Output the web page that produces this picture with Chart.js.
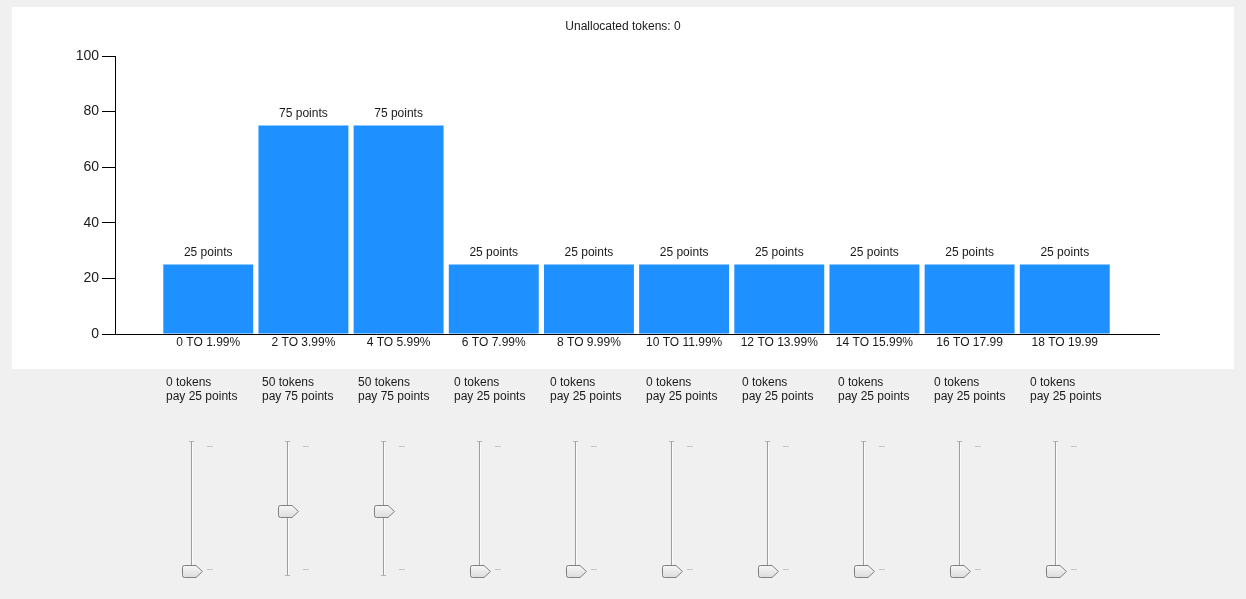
<!DOCTYPE html>
<html>
<head>
<meta charset="utf-8">
<script src="https://cdn.jsdelivr.net/npm/chart.js@4"></script>
<style>
  body { margin: 0; background: #f0f0f0; font-family: 'Liberation Sans', Arial, sans-serif; }
  #panel { position: absolute; left: 12px; top: 7px; width: 1222px; height: 362px; background: #fff; }
  #controls { position: absolute; left: 0; top: 0; width: 1246px; height: 599px; pointer-events: none; }
  .lbl { position: absolute; top: 376px; font-size: 12px; line-height: 13.5px; color: #1a1a1a; white-space: nowrap; }
  .track { position: absolute; top: 441px; height: 134px; width: 1px; background: #9c9c9c; border-right: 1px solid #fbfbfb; }
  .cap { position: absolute; width: 5px; height: 1px; background: #b4b4b4; }
  .tick { position: absolute; width: 6px; height: 1px; background: #c4c4c4; }
  .thumb { position: absolute; width: 22px; height: 13px; }
</style>
</head>
<body>
<div id="panel"><canvas id="myChart" width="1222" height="362"></canvas></div>
<div id="controls"></div>
<script>
// Dados do gráfico
let rangeLabels = ['0 TO 1.99%', '2 TO 3.99%', '4 TO 5.99%', '6 TO 7.99%', '8 TO 9.99%',
                   '10 TO 11.99%', '12 TO 13.99%', '14 TO 15.99%', '16 TO 17.99', '18 TO 19.99'];
let points = [25, 75, 75, 25, 25, 25, 25, 25, 25, 25];
let tokens = [0, 50, 50, 0, 0, 0, 0, 0, 0, 0];
let yTicks = [0, 20, 40, 60, 80, 100];
let unallocated = 0;

const txt = '#1a1a1a';
const fontFam = "'Liberation Sans', Arial, sans-serif";
Chart.defaults.font.family = fontFam;
Chart.defaults.font.size = 12;
Chart.defaults.color = txt;

// Escreve "xx points" em cima de cada barra e o título no meio do painel
const barLabels = {
    id: 'barLabels',
    afterDatasetsDraw(chart) {
        const ctx = chart.ctx;
        ctx.save();
        ctx.font = '12px ' + fontFam;
        ctx.fillStyle = txt;
        ctx.textAlign = 'center';
        ctx.textBaseline = 'alphabetic';
        chart.getDatasetMeta(0).data.forEach((bar, i) => {
            ctx.fillText(points[i] + ' points', bar.x, bar.y - 9);
        });
        ctx.textBaseline = 'middle';
        ctx.fillText('Unallocated tokens: ' + unallocated, chart.width / 2, 19.5);
        ctx.restore();
    }
};

var myChart = new Chart(document.getElementById('myChart'), {
    type: 'bar',
    data: {
        datasets: [{
            data: points.map((p, i) => ({ x: i, y: p })),
            backgroundColor: '#1E90FF',
            borderWidth: 0,
            barPercentage: 0.945,
            categoryPercentage: 1
        }]
    },
    options: {
        responsive: false,
        animation: false,
        devicePixelRatio: 1,
        layout: { padding: { left: 0, right: 75, top: 49, bottom: 18.6 } },
        plugins: {
            legend: { display: false },
            tooltip: { enabled: false },
            title: { display: false }
        },
        scales: {
            x: {
                type: 'linear',
                offset: false,
                min: -0.98,
                max: 9.99,
                grid: { display: false, drawTicks: false, offset: false },
                border: { display: true, color: '#000', width: 1 },
                ticks: {
                    stepSize: 1,
                    includeBounds: false,
                    autoSkip: false,
                    maxRotation: 0,
                    padding: 1,
                    color: txt,
                    callback: v => rangeLabels[Math.round(v)] ?? ''
                }
            },
            y: {
                min: 0,
                max: 100,
                afterFit(scale) { scale.width = 103; },
                afterBuildTicks(scale) { scale.ticks = yTicks.map(v => ({ value: v })); },
                grid: { drawOnChartArea: false, drawTicks: true, tickLength: 13, color: '#000' },
                border: { display: true, color: '#000', width: 1 },
                ticks: { padding: 3, color: txt, font: { size: 14 } }
            }
        }
    },
    plugins: [barLabels]
});

// Sliders (trackbars) por baixo do gráfico
const box = document.getElementById('controls');
const thumbY = t => 570 - t * 1.2;
tokens.forEach((t, i) => {
    const tx = 191 + i * 96;
    const lbl = document.createElement('div');
    lbl.className = 'lbl';
    lbl.style.left = (tx - 25) + 'px';
    lbl.innerHTML = t + ' tokens<br>pay ' + points[i] + ' points';
    box.appendChild(lbl);

    const track = document.createElement('div');
    track.className = 'track';
    track.style.left = tx + 'px';
    box.appendChild(track);

    [441, 575].forEach(y => {
        const c = document.createElement('div');
        c.className = 'cap';
        c.style.left = (tx - 2) + 'px';
        c.style.top = y + 'px';
        box.appendChild(c);
    });
    [446, 569].forEach(y => {
        const k = document.createElement('div');
        k.className = 'tick';
        k.style.left = (tx + 16) + 'px';
        k.style.top = y + 'px';
        box.appendChild(k);
    });

    const th = document.createElement('div');
    th.className = 'thumb';
    th.style.left = (tx - 9) + 'px';
    th.style.top = (thumbY(t) - 6) + 'px';
    th.innerHTML = '<svg width="22" height="13"><defs><linearGradient id="g' + i + '" x1="0" y1="0" x2="0" y2="1">' +
        '<stop offset="0" stop-color="#f7f7f7"/><stop offset="1" stop-color="#dcdcdc"/></linearGradient></defs>' +
        '<path d="M2.5 0.5 H14 L20.5 6.5 L14 12.5 H2.5 Q0.5 12.5 0.5 10.5 V2.5 Q0.5 0.5 2.5 0.5 Z" fill="url(#g' + i + ')" stroke="#808080" stroke-width="1"/></svg>';
    box.appendChild(th);
});
</script>
</body>
</html>
